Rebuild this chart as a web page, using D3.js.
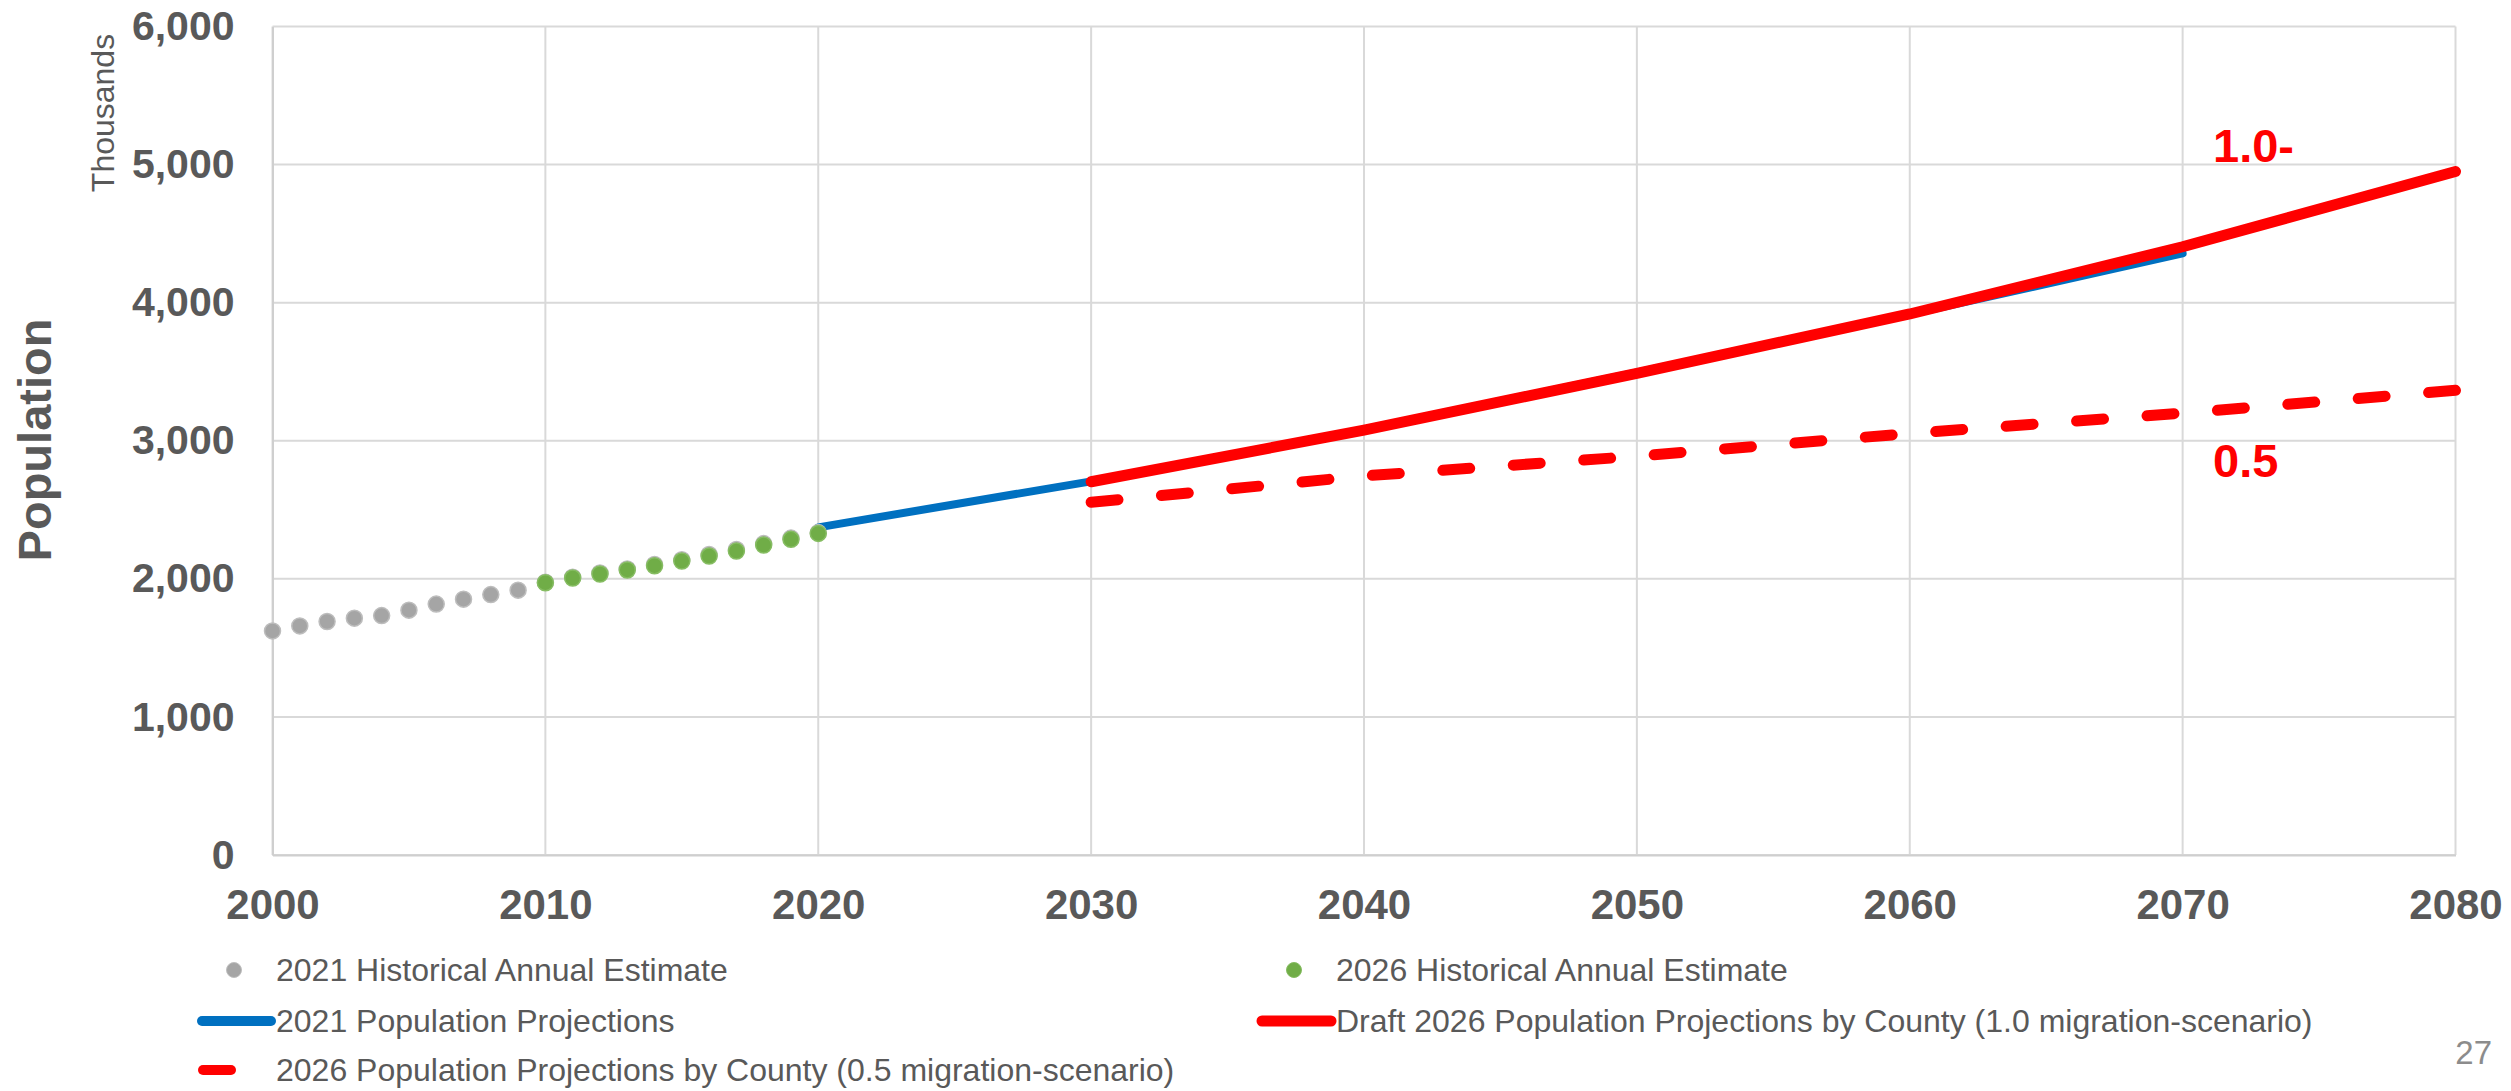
<!DOCTYPE html>
<html>
<head>
<meta charset="utf-8">
<script src="https://cdn.jsdelivr.net/npm/d3@7/dist/d3.min.js"></script>
<style>
  html, body { margin: 0; padding: 0; background: #fff; }
  svg { display: block; font-family: "Liberation Sans", Arial, sans-serif; }
</style>
</head>
<body>
<svg id="chart" width="2511" height="1091"></svg>
<script>
// ---- Data (population, thousands) ----
const histYears2021 = [2000,2001,2002,2003,2004,2005,2006,2007,2008,2009,2010,2011,2012,2013,2014,2015,2016,2017,2018,2019,2020];
const hist2021 = [1623,1659,1691,1715,1734,1773,1817,1853,1886,1918,1975,2012,2042,2072,2104,2139,2176,2212,2255,2295,2335];

const histYears2026 = [2010,2011,2012,2013,2014,2015,2016,2017,2018,2019,2020];
const hist2026 = [1972,2006,2035,2064,2095,2129,2165,2201,2245,2286,2329];

const projYears2021 = [2020,2030,2040,2050,2060,2070];
const proj2021 = [2373,2706,3082,3495,3915,4357];

const projYears10 = [2030,2040,2050,2060,2070,2080];
const proj10 = [2703,3077,3488,3918,4405,4950];

const projYears05 = [2030,2040,2050,2060,2070,2080];
const proj05 = [2554,2745,2888,3053,3200,3365];

const xTicks = [2000,2010,2020,2030,2040,2050,2060,2070,2080];
const yTicks = [0,1000,2000,3000,4000,5000,6000];

const legendItems = [
  {label: "2021 Historical Annual Estimate", type: "dot", color: "#a5a5a5", stroke: "#bfbfbf", col: 0, row: 0},
  {label: "2026 Historical Annual Estimate", type: "dot", color: "#70ad47", stroke: "#86bd62", col: 1, row: 0},
  {label: "2021 Population Projections", type: "line", color: "#0070c0", col: 0, row: 1},
  {label: "Draft 2026 Population Projections by County (1.0 migration-scenario)", type: "line", color: "#ff0000", col: 1, row: 1},
  {label: "2026 Population Projections by County (0.5 migration-scenario)", type: "dash", color: "#ff0000", col: 0, row: 2}
];

// ---- Layout ----
const svg = d3.select("#chart");
const x = d3.scaleLinear().domain([2000, 2080]).range([272.5, 2455.5]);
const y = d3.scaleLinear().domain([0, 6000]).range([855, 26.5]);
const textColor = "#595959";
const gridColor = "#d9d9d9";

// gridlines
svg.append("g").selectAll("line.h").data(yTicks).join("line")
  .attr("x1", x(2000)).attr("x2", x(2080))
  .attr("y1", d => y(d)).attr("y2", d => y(d))
  .attr("stroke", gridColor).attr("stroke-width", 2);
svg.append("g").selectAll("line.v").data(xTicks).join("line")
  .attr("x1", d => x(d)).attr("x2", d => x(d))
  .attr("y1", y(0)).attr("y2", y(6000))
  .attr("stroke", gridColor).attr("stroke-width", 2);

// axes via d3
const yAxis = d3.axisLeft(y).tickValues(yTicks).tickSize(0).tickPadding(38).tickFormat(d3.format(","));
const gy = svg.append("g").attr("transform", `translate(${x(2000)},0)`).call(yAxis);
gy.select(".domain").attr("stroke", "#cfcfcf").attr("stroke-width", 2);
gy.selectAll("text").attr("font-size", 41).attr("font-weight", "bold").attr("fill", textColor)
  .attr("font-family", "Liberation Sans, Arial, sans-serif");

const xAxis = d3.axisBottom(x).tickValues(xTicks).tickSize(0).tickPadding(34).tickFormat(d3.format("d"));
const gx = svg.append("g").attr("transform", `translate(0,${y(0)})`).call(xAxis);
gx.select(".domain").attr("stroke", "#cfcfcf").attr("stroke-width", 2);
gx.selectAll("text").attr("font-size", 42).attr("font-weight", "bold").attr("fill", textColor)
  .attr("font-family", "Liberation Sans, Arial, sans-serif");

// axis titles
svg.append("text").attr("transform", "translate(51,440) rotate(-90)")
  .attr("text-anchor", "middle").attr("font-size", 47).attr("font-weight", "bold")
  .attr("fill", textColor).text("Population");
svg.append("text").attr("transform", "translate(114,113) rotate(-90)")
  .attr("text-anchor", "middle").attr("font-size", 32)
  .attr("fill", textColor).text("Thousands");

// lines
const line = d3.line().x(d => x(d[0])).y(d => y(d[1]));
const zip = (a, b) => a.map((v, i) => [v, b[i]]);

svg.append("path").datum(zip(projYears2021, proj2021)).attr("d", line)
  .attr("fill", "none").attr("stroke", "#0070c0").attr("stroke-width", 8)
  .attr("stroke-linecap", "round").attr("stroke-linejoin", "round");
svg.append("path").datum(zip(projYears10, proj10)).attr("d", line)
  .attr("fill", "none").attr("stroke", "#ff0000").attr("stroke-width", 11)
  .attr("stroke-linecap", "round").attr("stroke-linejoin", "round");
const dashPath = svg.append("path").datum(zip(projYears05, proj05)).attr("d", line)
  .attr("fill", "none").attr("stroke", "#ff0000").attr("stroke-width", 11)
  .attr("stroke-linecap", "round").attr("stroke-linejoin", "round");
// fit the dash pattern so a dash ends exactly at the last point
{
  const L = dashPath.node().getTotalLength();
  const dash = 27, period = 69.6;
  const n = Math.round((L - dash) / period) + 1;
  const gap = (L - n * dash) / (n - 1);
  dashPath.attr("stroke-dasharray", `${dash},${gap}`);
}

// points
svg.append("g").selectAll("circle").data(zip(histYears2021, hist2021)).join("circle")
  .attr("cx", d => x(d[0])).attr("cy", d => y(d[1])).attr("r", 8)
  .attr("fill", "#a5a5a5").attr("stroke", "#bdbdbd").attr("stroke-width", 1.5);
svg.append("g").selectAll("circle").data(zip(histYears2026, hist2026)).join("circle")
  .attr("cx", d => x(d[0])).attr("cy", d => y(d[1])).attr("r", 8)
  .attr("fill", "#70ad47").attr("stroke", "#86bd62").attr("stroke-width", 1.5);

// scenario labels
svg.append("text").attr("x", 2213).attr("y", 162).attr("font-size", 47).attr("font-weight", "bold")
  .attr("fill", "#ff0000").text("1.0-");
svg.append("text").attr("x", 2213).attr("y", 477).attr("font-size", 47).attr("font-weight", "bold")
  .attr("fill", "#ff0000").text("0.5");

// legend
const colText = [276, 1336];
const rowY = [970, 1021, 1070];
const lg = svg.append("g").selectAll("g").data(legendItems).join("g")
  .attr("transform", d => `translate(${colText[d.col]},${rowY[d.row]})`);
lg.each(function(d) {
  const g = d3.select(this);
  if (d.type === "dot") {
    g.append("circle").attr("cx", -42).attr("cy", 0).attr("r", 7.5)
      .attr("fill", d.color).attr("stroke", d.stroke).attr("stroke-width", 1);
  } else if (d.type === "line") {
    g.append("line").attr("x1", -74).attr("x2", -5).attr("y1", 0).attr("y2", 0)
      .attr("stroke", d.color).attr("stroke-width", d.color === "#ff0000" ? 11 : 10).attr("stroke-linecap", "round");
  } else {
    g.append("line").attr("x1", -73).attr("x2", -45).attr("y1", 0).attr("y2", 0)
      .attr("stroke", d.color).attr("stroke-width", 10).attr("stroke-linecap", "round");
  }
  g.append("text").attr("x", 0).attr("y", 0).attr("dy", "0.35em")
    .attr("font-size", 32).attr("fill", textColor).text(d.label);
});

// page number
svg.append("text").attr("x", 2492).attr("y", 1064).attr("text-anchor", "end")
  .attr("font-size", 33).attr("fill", "#8c8c8c").text("27");
</script>
</body>
</html>
